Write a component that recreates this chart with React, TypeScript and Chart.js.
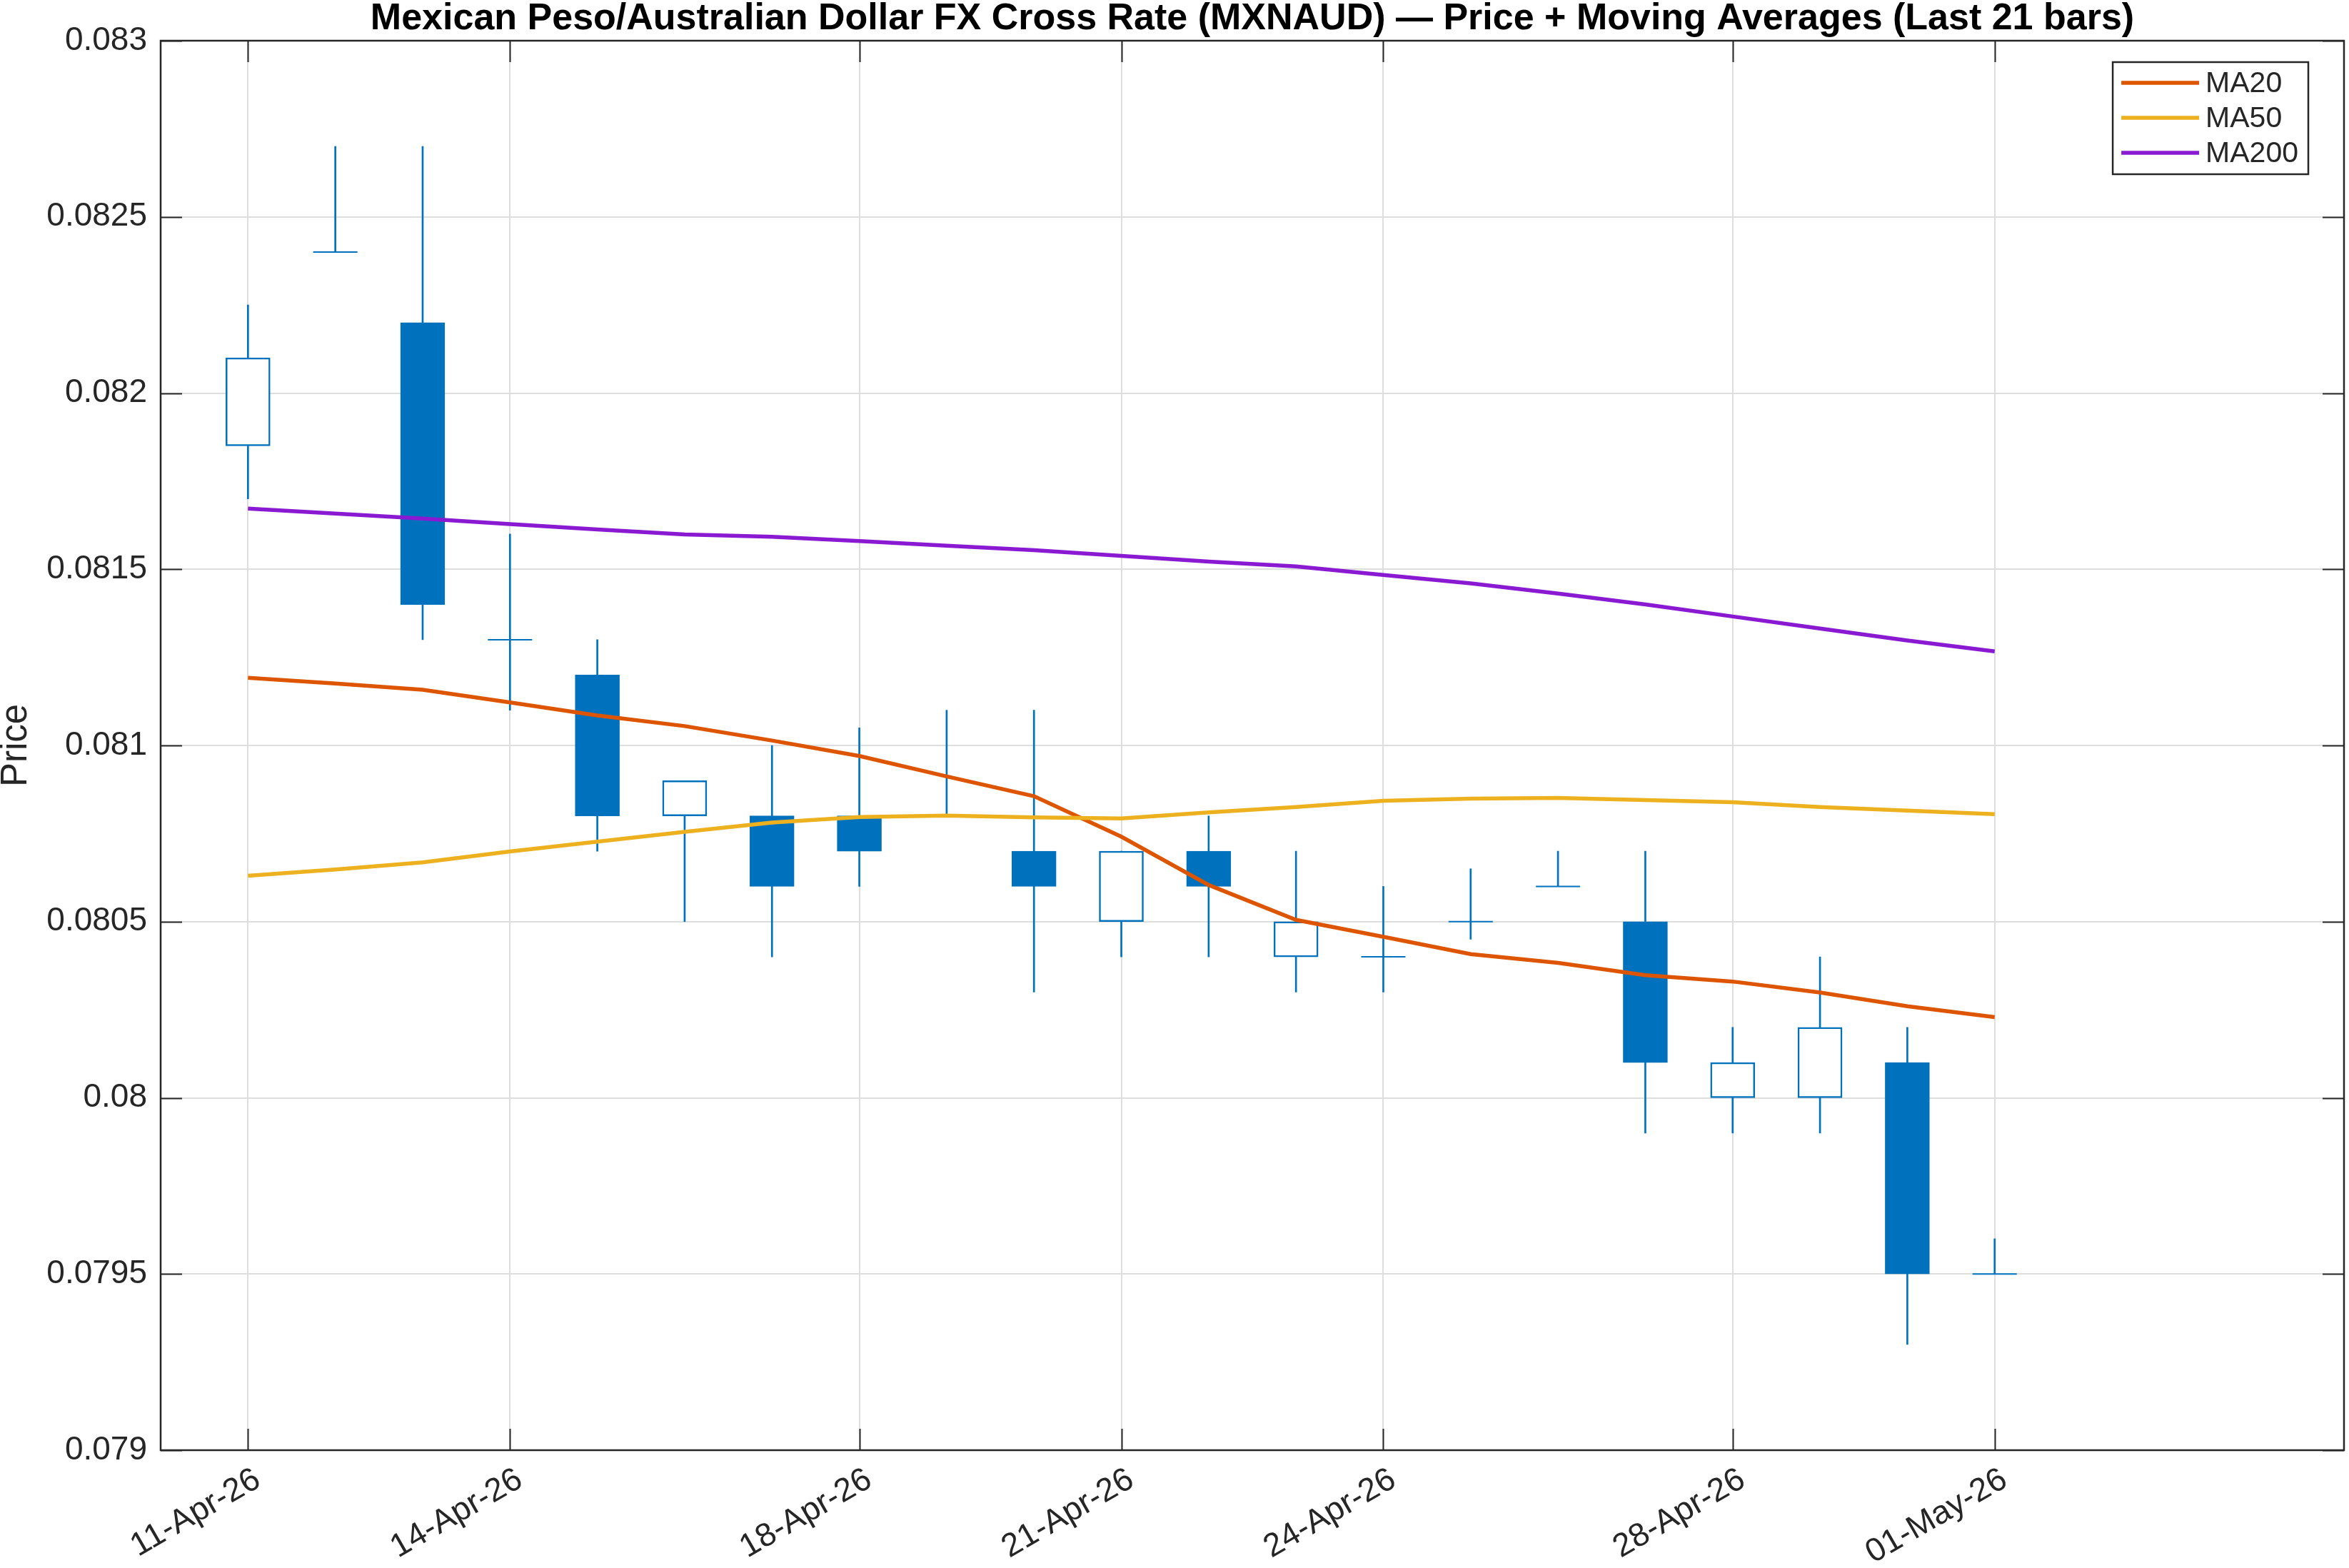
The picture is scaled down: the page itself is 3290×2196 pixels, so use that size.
import { useEffect, useRef } from 'react';
import { Chart, registerables } from 'chart.js';

Chart.register(...registerables);

// ---- data ----
const dates = [
  '11-Apr-26', '12-Apr-26', '13-Apr-26', '14-Apr-26', '15-Apr-26', '16-Apr-26', '17-Apr-26',
  '18-Apr-26', '19-Apr-26', '20-Apr-26', '21-Apr-26', '22-Apr-26', '23-Apr-26', '24-Apr-26',
  '25-Apr-26', '26-Apr-26', '27-Apr-26', '28-Apr-26', '29-Apr-26', '30-Apr-26', '01-May-26',
];

const openP = [0.08185, 0.0824, 0.0822, 0.0813, 0.0812, 0.0808, 0.0808, 0.0808, 0.0808, 0.0807, 0.0805,
  0.0807, 0.0804, 0.0804, 0.0805, 0.0806, 0.0805, 0.0800, 0.0800, 0.0801, 0.0795];
const highP = [0.08225, 0.0827, 0.0827, 0.0816, 0.0813, 0.0809, 0.0810, 0.08105, 0.0811, 0.0811, 0.0807,
  0.0808, 0.0807, 0.0806, 0.08065, 0.0807, 0.0807, 0.0802, 0.0804, 0.0802, 0.0796];
const lowP = [0.0817, 0.0824, 0.0813, 0.0811, 0.0807, 0.0805, 0.0804, 0.0806, 0.0808, 0.0803, 0.0804,
  0.0804, 0.0803, 0.0803, 0.08045, 0.0806, 0.0799, 0.0799, 0.0799, 0.0793, 0.0795];
const closeP = [0.0821, 0.0824, 0.0814, 0.0813, 0.0808, 0.0809, 0.0806, 0.0807, 0.0808, 0.0806, 0.0807,
  0.0806, 0.0805, 0.0804, 0.0805, 0.0806, 0.0801, 0.0801, 0.0802, 0.0795, 0.0795];

const ma20 = [0.081192, 0.081176, 0.081158, 0.081122, 0.081085, 0.081055, 0.081014, 0.080970, 0.080912,
  0.080856, 0.080741, 0.080604, 0.080505, 0.080457, 0.080408, 0.080383, 0.080348, 0.080330, 0.080299,
  0.080260, 0.080229];
const ma50 = [0.080630, 0.080648, 0.080668, 0.080699, 0.080727, 0.080755, 0.080781, 0.080797, 0.080801,
  0.080796, 0.080793, 0.080810, 0.080825, 0.080843, 0.080849, 0.080851, 0.080845, 0.080839, 0.080825,
  0.080815, 0.080805];
const ma200 = [0.081672, 0.081658, 0.081644, 0.081628, 0.081613, 0.081599, 0.081592, 0.081580, 0.081567,
  0.081554, 0.081538, 0.081522, 0.081508, 0.081484, 0.081460, 0.081431, 0.081400, 0.081366, 0.081332,
  0.081298, 0.081267];

const xTickLabels = ['11-Apr-26', '14-Apr-26', '18-Apr-26', '21-Apr-26', '24-Apr-26', '28-Apr-26', '01-May-26'];
const yTicks = [0.079, 0.0795, 0.08, 0.0805, 0.081, 0.0815, 0.082, 0.0825, 0.083];

const TITLE = 'Mexican Peso/Australian Dollar FX Cross Rate (MXNAUD) \u2014 Price + Moving Averages (Last 21 bars)';

// ---- styling ----
const W = 3290;
const H = 2196;
const FONT = '"Liberation Sans", Arial, Helvetica, sans-serif';
const AXIS = '#262626';
const GRID = '#DEDEDE';
const CANDLE = '#0072BD';
const C20 = '#DD5500';
const C50 = '#EDB120';
const C200 = '#8A1AD2';
const MA_WIDTH = 5.5;
const TICK_LEN = 30;

const isDoji = (i: number) => Math.abs(openP[i] - closeP[i]) < 1e-9;

const axesDecor = {
  id: 'axesDecor',
  afterDraw(chart: any) {
    const { ctx, chartArea: a, scales } = chart;
    ctx.save();
    // inward tick marks on all four sides
    ctx.strokeStyle = AXIS;
    ctx.lineWidth = 2;
    ctx.beginPath();
    for (const t of scales.x.ticks) {
      const px = Math.round(scales.x.getPixelForValue(t.value)) + 0.5;
      ctx.moveTo(px, a.bottom);
      ctx.lineTo(px, a.bottom - TICK_LEN);
      ctx.moveTo(px, a.top);
      ctx.lineTo(px, a.top + TICK_LEN);
    }
    for (const t of scales.y.ticks) {
      const py = Math.round(scales.y.getPixelForValue(t.value)) + 0.5;
      ctx.moveTo(a.left, py);
      ctx.lineTo(a.left + TICK_LEN, py);
      ctx.moveTo(a.right, py);
      ctx.lineTo(a.right - TICK_LEN, py);
    }
    ctx.stroke();
    // box
    ctx.lineWidth = 2.5;
    ctx.strokeRect(a.left, a.top, a.right - a.left, a.bottom - a.top);

    // title, centred over the axes
    ctx.fillStyle = '#000000';
    ctx.font = `bold 52px ${FONT}`;
    ctx.textAlign = 'center';
    ctx.textBaseline = 'alphabetic';
    ctx.fillText(TITLE, (a.left + a.right) / 2, 41);

    // legend box in the upper-right corner
    const lines = chart.data.datasets.filter((d: any) => d.type === 'line');
    ctx.font = `41px ${FONT}`;
    const textW = Math.max(...lines.map((d: any) => ctx.measureText(d.label).width));
    const sampleL = 109;
    const boxW = 12 + sampleL + 9 + textW + 14;
    const rowH = 49;
    const boxH = 29 + rowH * (lines.length - 1) + 30;
    const bx = a.right - 50 - boxW;
    const by = a.top + 30;
    ctx.fillStyle = '#ffffff';
    ctx.fillRect(bx, by, boxW, boxH);
    ctx.strokeStyle = AXIS;
    ctx.lineWidth = 2.5;
    ctx.strokeRect(bx, by, boxW, boxH);
    ctx.textAlign = 'left';
    ctx.textBaseline = 'middle';
    lines.forEach((d: any, k: number) => {
      const y = by + 29 + k * rowH;
      ctx.strokeStyle = d.borderColor;
      ctx.lineWidth = MA_WIDTH;
      ctx.beginPath();
      ctx.moveTo(bx + 12, y);
      ctx.lineTo(bx + 12 + sampleL, y);
      ctx.stroke();
      ctx.fillStyle = AXIS;
      ctx.fillText(d.label, bx + 12 + sampleL + 9, y + 2);
    });
    ctx.restore();
  },
};

export default function App() {
  const canvasRef = useRef<HTMLCanvasElement | null>(null);

  useEffect(() => {
    const canvas = canvasRef.current;
    if (!canvas) return;

    const idx = dates.map((_, i) => i);
    const tickIdx = xTickLabels.map((l) => dates.indexOf(l));

    const wickData = idx.map((i) => ({ x: i, y: [lowP[i], highP[i]] }));
    const bodyIdx = idx.filter((i) => !isDoji(i));
    const bodyData = bodyIdx.map((i) => ({ x: i, y: [openP[i], closeP[i]] }));
    const bodyFill = bodyIdx.map((i) => (closeP[i] > openP[i] ? '#ffffff' : CANDLE));
    const dojiData = idx.filter((i) => isDoji(i)).map((i) => ({ x: i, y: openP[i] }));

    const lineDs = (label: string, vals: number[], color: string, order: number) => ({
      type: 'line' as const,
      label,
      data: vals.map((v, i) => ({ x: i, y: v })),
      borderColor: color,
      backgroundColor: color,
      borderWidth: MA_WIDTH,
      pointRadius: 0,
      tension: 0,
      order,
    });

    const chart = new Chart(canvas, {
      type: 'bar',
      data: {
        datasets: [
          lineDs('MA20', ma20, C20, 2),
          lineDs('MA50', ma50, C50, 1),
          lineDs('MA200', ma200, C200, 0),
          {
            type: 'scatter',
            label: 'doji',
            data: dojiData,
            pointStyle: 'line',
            pointRadius: 31,
            pointBorderWidth: 2,
            borderColor: CANDLE,
            backgroundColor: CANDLE,
            order: 3,
          } as any,
          {
            type: 'bar',
            label: 'body',
            data: bodyData,
            backgroundColor: bodyFill,
            borderColor: CANDLE,
            borderWidth: 2.5,
            borderSkipped: false,
            barThickness: 62,
            grouped: false,
            order: 4,
          } as any,
          {
            type: 'bar',
            label: 'wick',
            data: wickData,
            backgroundColor: CANDLE,
            borderWidth: 0,
            barThickness: 2,
            grouped: false,
            order: 5,
          } as any,
        ],
      },
      options: {
        responsive: false,
        devicePixelRatio: 1,
        animation: false,
        events: [],
        layout: { autoPadding: false, padding: { top: 57, right: 7, bottom: 0, left: 0 } },
        plugins: {
          legend: { display: false },
          title: { display: false },
          tooltip: { enabled: false },
        },
        scales: {
          x: {
            type: 'linear',
            min: -1,
            max: 24,
            offset: false,
            afterBuildTicks: (s: any) => {
              s.ticks = tickIdx.map((v) => ({ value: v }));
            },
            afterFit: (s: any) => {
              s.height = 165;
              s.paddingLeft = 0;
              s.paddingRight = 0;
            },
            grid: { color: GRID, lineWidth: 2, offset: false, drawTicks: false, tickLength: 0 },
            border: { display: false },
            ticks: {
              autoSkip: false,
              maxRotation: 30,
              minRotation: 30,
              padding: 14,
              labelOffset: 14,
              color: AXIS,
              font: { family: FONT, size: 46 },
              callback: (v: any) => {
                const k = tickIdx.indexOf(Number(v));
                return k >= 0 ? xTickLabels[k] : '';
              },
            },
          },
          y: {
            type: 'linear',
            min: yTicks[0],
            max: yTicks[yTicks.length - 1],
            afterBuildTicks: (s: any) => {
              s.ticks = yTicks.map((v) => ({ value: v }));
            },
            afterFit: (s: any) => {
              s.width = 225;
            },
            grid: { color: GRID, lineWidth: 2, offset: false, drawTicks: false, tickLength: 0 },
            border: { display: false },
            title: {
              display: true,
              text: 'Price',
              color: AXIS,
              font: { family: FONT, size: 51, lineHeight: 1 },
              padding: { top: -3, bottom: 0 },
            },
            ticks: {
              padding: 19,
              color: AXIS,
              font: { family: FONT, size: 46 },
              callback: (v: any) => String(Number(Number(v).toFixed(5))),
            },
          },
        },
      },
      plugins: [axesDecor],
    } as any);

    return () => chart.destroy();
  }, []);

  return (
    <div style={{ position: 'absolute', left: 0, top: 0, width: W, height: H, background: '#ffffff' }}>
      <canvas ref={canvasRef} width={W} height={H} style={{ display: 'block' }} />
    </div>
  );
}
